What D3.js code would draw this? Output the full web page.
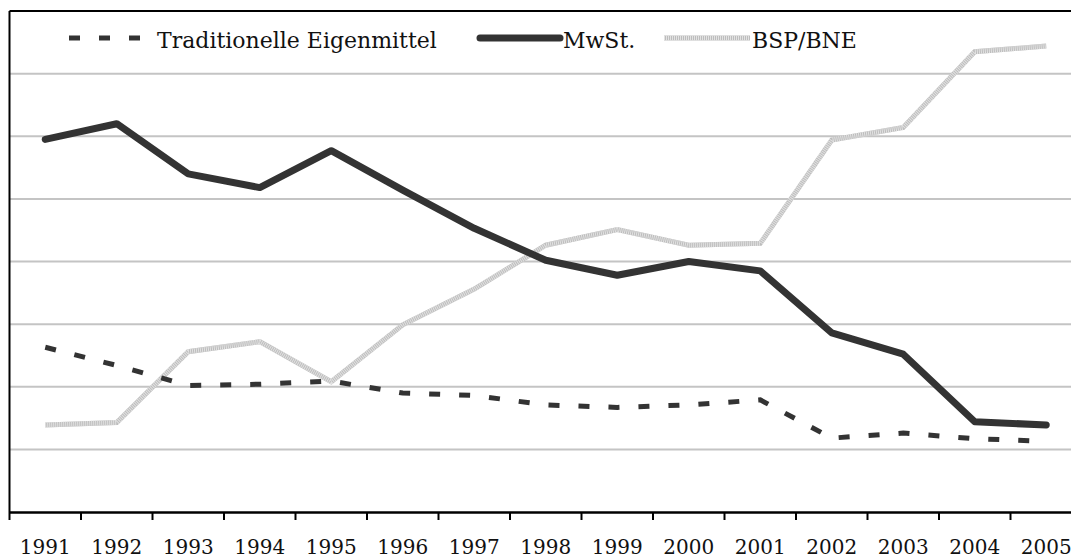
<!DOCTYPE html>
<html lang="de">
<head>
  <meta charset="UTF-8">
  <title>Eigenmittel 1991-2005</title>
  <script src="https://d3js.org/d3.v7.min.js"></script>
  <style>
    body { margin: 0; background: #fff; }
    .axis text { font-family: "DejaVu Serif", serif; font-size: 20px; fill: #111; }
    .legend text { font-family: "DejaVu Serif", serif; font-size: 22px; fill: #111; }
  </style>
</head>
<body>
  <div id="chart"></div>

  <script>
    // data (share in %)
    const years = ["1991", "1992", "1993", "1994", "1995", "1996", "1997", "1998",
                   "1999", "2000", "2001", "2002", "2003", "2004", "2005"];
    const traditionelle = [26.3, 23.4, 20.2, 20.4, 20.9, 19.0, 18.6, 17.1, 16.7, 17.1, 17.9, 11.8, 12.6, 11.7, 11.3];
    const mwst = [59.5, 62.0, 54.0, 51.8, 57.7, 51.4, 45.3, 40.2, 37.8, 40.0, 38.5, 28.6, 25.2, 14.4, 13.9];
    const bsp = [13.9, 14.3, 25.6, 27.2, 20.8, 29.9, 35.6, 42.6, 45.1, 42.6, 42.9, 59.4, 61.4, 73.5, 74.4];
    const gridValues = [10, 20, 30, 40, 50, 60, 70];

    const width = 1071, height = 559;
    // plot area runs a bit past the right edge of the picture, like the original
    const plotLeft = 9.5, plotRight = 1082, plotTop = 11, plotBottom = 512;

    const svg = d3.select("#chart")
      .append("svg")
      .attr("width", width)
      .attr("height", height);

    const x = d3.scaleBand()
      .domain(years)
      .range([plotLeft, plotRight])
      .padding(0);

    const y = d3.scaleLinear()
      .domain([0, 80])
      .range([plotBottom, plotTop]);

    const cx = d => x(d) + x.bandwidth() / 2;

    // horizontal gridlines
    svg.append("g")
      .selectAll("line")
      .data(gridValues)
      .join("line")
      .attr("x1", plotLeft)
      .attr("x2", plotRight)
      .attr("y1", d => y(d))
      .attr("y2", d => y(d))
      .attr("stroke", "#c4c4c4")
      .attr("stroke-width", 2);

    // frame: top and left border
    svg.append("line")
      .attr("x1", plotLeft).attr("x2", plotRight)
      .attr("y1", plotTop).attr("y2", plotTop)
      .attr("stroke", "#000").attr("stroke-width", 2);
    svg.append("line")
      .attr("x1", plotLeft).attr("x2", plotLeft)
      .attr("y1", plotTop).attr("y2", plotBottom)
      .attr("stroke", "#000").attr("stroke-width", 2);

    // x axis: labels centred in bands, ticks on band edges
    const xAxis = svg.append("g")
      .attr("class", "axis")
      .attr("transform", "translate(0," + plotBottom + ")")
      .call(d3.axisBottom(x).tickSize(0).tickPadding(28));
    xAxis.select(".domain").attr("stroke", "#000").attr("stroke-width", 2.5);

    xAxis.selectAll(".edge")
      .data(years.concat(["end"]))
      .join("line")
      .attr("class", "edge")
      .attr("x1", (d, i) => i < years.length ? x(d) : x(years[i - 1]) + x.bandwidth())
      .attr("x2", (d, i) => i < years.length ? x(d) : x(years[i - 1]) + x.bandwidth())
      .attr("y1", 0)
      .attr("y2", 8)
      .attr("stroke", "#000")
      .attr("stroke-width", 2);

    const line = d3.line()
      .x((d, i) => cx(years[i]))
      .y(d => y(d));

    // BSP/BNE: light hatched grey line
    svg.append("path")
      .datum(bsp)
      .attr("d", line)
      .attr("fill", "none")
      .attr("stroke", "#bdbdbd")
      .attr("stroke-width", 5);
    svg.append("path")
      .datum(bsp)
      .attr("d", line)
      .attr("fill", "none")
      .attr("stroke", "#e2e2e2")
      .attr("stroke-width", 5)
      .attr("stroke-dasharray", "1 1");

    // Traditionelle Eigenmittel: dashed
    svg.append("path")
      .datum(traditionelle)
      .attr("d", line)
      .attr("fill", "none")
      .attr("stroke", "#333")
      .attr("stroke-width", 5)
      .attr("stroke-dasharray", "11 19");

    // MwSt.: thick dark line
    svg.append("path")
      .datum(mwst)
      .attr("d", line)
      .attr("fill", "none")
      .attr("stroke", "#333")
      .attr("stroke-width", 7)
      .attr("stroke-linejoin", "round")
      .attr("stroke-linecap", "round");

    // legend
    const legend = svg.append("g").attr("class", "legend");
    const ly = 38, textY = 48;

    legend.append("line")
      .attr("x1", 69).attr("x2", 141).attr("y1", ly).attr("y2", ly)
      .attr("stroke", "#333").attr("stroke-width", 5)
      .attr("stroke-dasharray", "11 19");
    legend.append("text").attr("x", 157).attr("y", textY).text("Traditionelle Eigenmittel");

    legend.append("line")
      .attr("x1", 480).attr("x2", 560).attr("y1", ly).attr("y2", ly)
      .attr("stroke", "#333").attr("stroke-width", 7)
      .attr("stroke-linecap", "round");
    legend.append("text").attr("x", 563).attr("y", textY).text("MwSt.");

    legend.append("line")
      .attr("x1", 664).attr("x2", 750).attr("y1", ly).attr("y2", ly)
      .attr("stroke", "#bdbdbd").attr("stroke-width", 5);
    legend.append("line")
      .attr("x1", 664).attr("x2", 750).attr("y1", ly).attr("y2", ly)
      .attr("stroke", "#e2e2e2").attr("stroke-width", 5)
      .attr("stroke-dasharray", "1 1");
    legend.append("text").attr("x", 752).attr("y", textY).text("BSP/BNE");
  </script>
</body>
</html>
